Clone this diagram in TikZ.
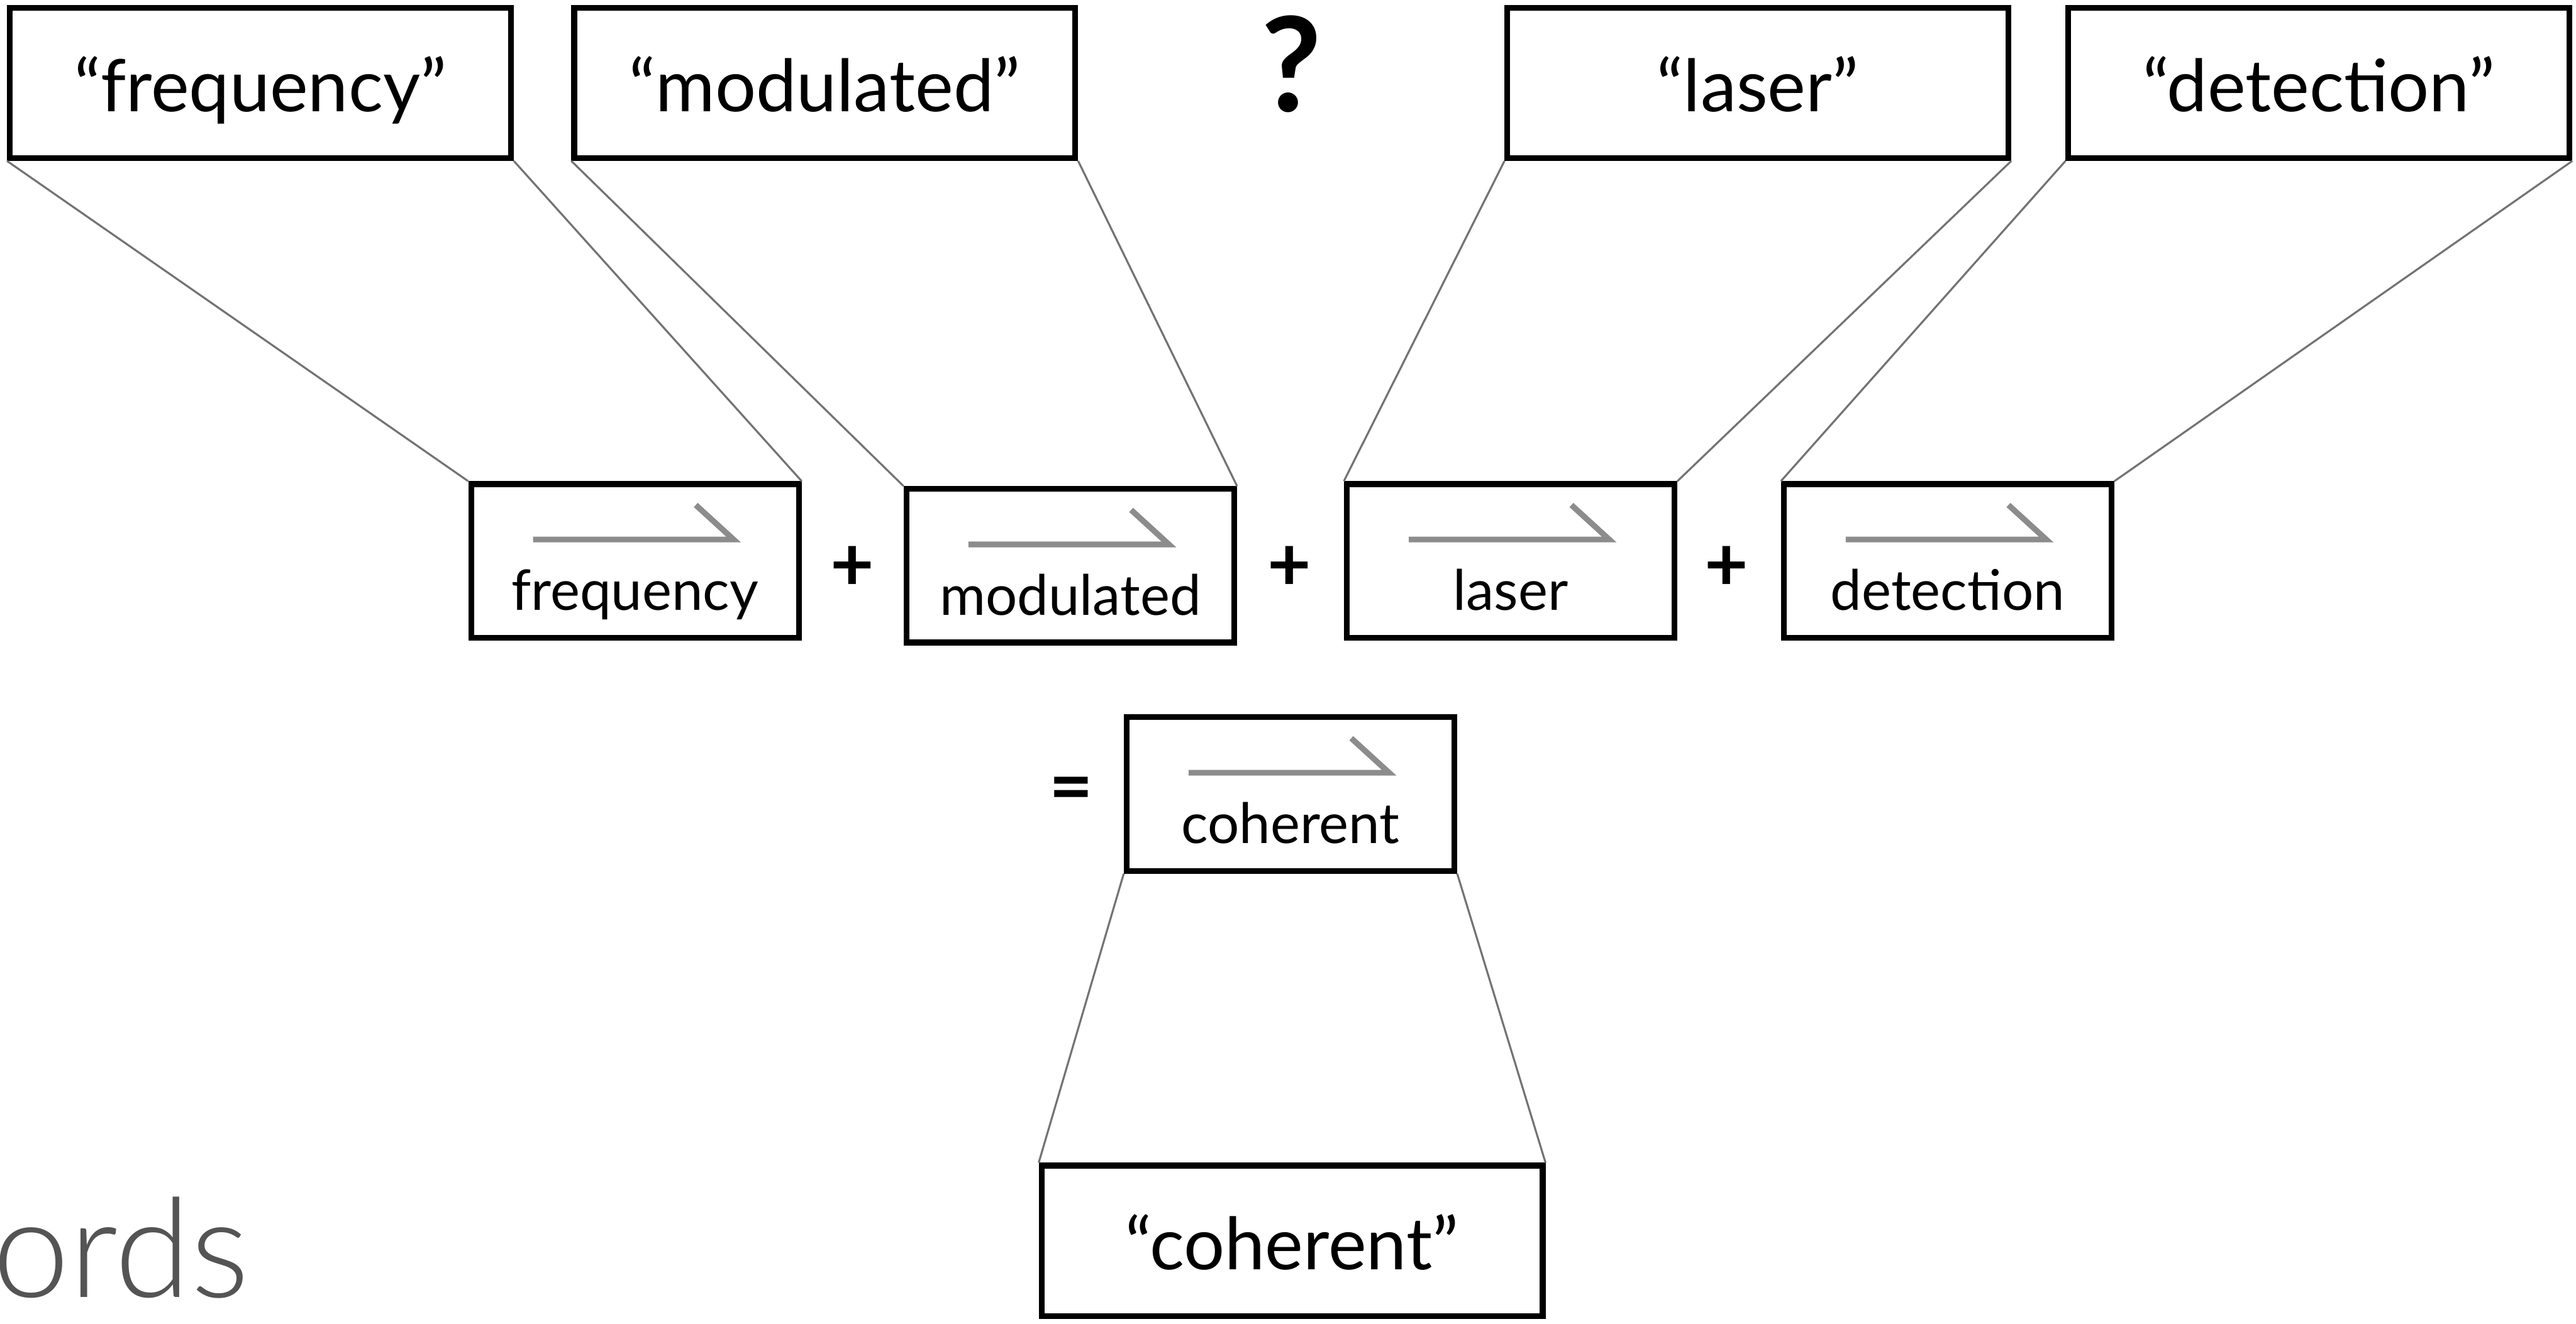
\documentclass[tikz,border=0pt]{standalone}
\usepackage{fontspec}
\setmainfont{Lato}
\newfontfamily\lightfont{Lato Light}
\begin{document}
\begin{tikzpicture}[x=1pt,y=-1pt,
  wordbox/.style={draw, line width=3.5pt, inner sep=0pt,
    minimum width=305pt, minimum height=91.5pt,
    font=\fontsize{44}{50}\selectfont, text height=35pt, text depth=0pt},
  termbox/.style={draw, line width=3.5pt, inner sep=0pt,
    minimum width=199.5pt, minimum height=93.5pt,
    font=\fontsize{34}{40}\selectfont, text height=60pt, text depth=0pt},
  link/.style={draw=black!55, line width=1.2pt},
  harpoon/.style={draw=black!45, line width=3.5pt, line join=miter},
  op/.style={font=\fontsize{46}{50}\bfseries\selectfont, inner sep=0pt}]
\useasboundingbox (0,0) rectangle (1568,806);

% quoted words along the top
\node[wordbox] (qfreq) at (158.5,50.5)  {“frequency”};
\node[wordbox] (qmod)  at (502,50.5)    {“modulated”};
\node[font=\fontsize{80}{84}\bfseries\selectfont, inner sep=0pt] (qmark) at (786,39) {?};
\node[wordbox] (qlaser) at (1070,50.5)  {“laser”};
\node[wordbox] (qdet)   at (1411.5,50.5) {“detection”};

% vector terms of the sum
\node[termbox] (tfreq)  at (386.5,341.5)  {frequency};
\node[op] (plus1) at (519,346) {+};
\node[termbox] (tmod)   at (651.5,344.5)  {modulated};
\node[op] (plus2) at (785,346) {+};
\node[termbox] (tlaser) at (919.5,341.5)  {laser};
\node[op] (plus3) at (1051,346) {+};
\node[termbox] (tdet)   at (1185.5,341.5) {detection};

% result of the sum
\node[op] (eq) at (652,484) {=};
\node[termbox] (tcoh) at (785.5,483.5) {coherent};

% nearest quoted word
\node[wordbox] (qcoh) at (786.5,755.5) {“coherent”};

% vector harpoons above the term labels
\foreach \t in {tfreq,tmod,tlaser,tdet,tcoh}
  \draw[harpoon] ([shift={(-62pt,13pt)}]\t.center) -- ++(122pt,0pt) -- ++(-23pt,21pt);

% projection lines
\draw[link] (qfreq.south west) -- (tfreq.north west);
\draw[link] (qfreq.south east) -- (tfreq.north east);
\draw[link] (qmod.south west) -- (tmod.north west);
\draw[link] (qmod.south east) -- (tmod.north east);
\draw[link] (qlaser.south west) -- (tlaser.north west);
\draw[link] (qlaser.south east) -- (tlaser.north east);
\draw[link] (qdet.south west) -- (tdet.north west);
\draw[link] (qdet.south east) -- (tdet.north east);
\draw[link] (tcoh.south west) -- (qcoh.north west);
\draw[link] (tcoh.south east) -- (qcoh.north east);

% heading fragment at the lower left
\node[anchor=base east, inner sep=0pt, text=black!67,
  font=\lightfont\fontsize{84}{90}\selectfont] (heading) at (152,790) {ords};
\end{tikzpicture}
\end{document}
